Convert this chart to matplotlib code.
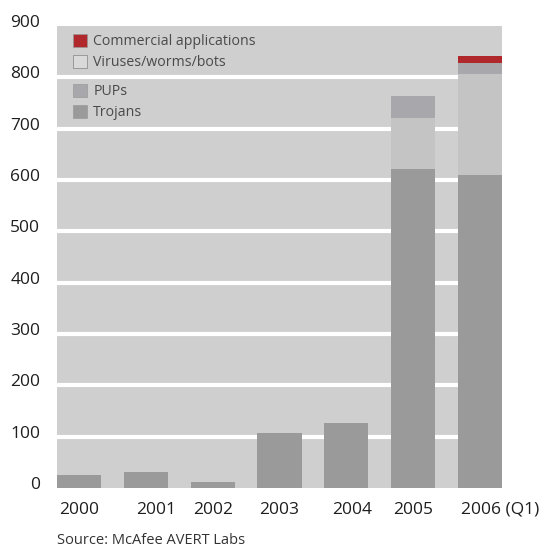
import matplotlib
matplotlib.use("Agg")
import matplotlib.pyplot as plt
import matplotlib.transforms as mtransforms
from matplotlib.patches import Patch
import numpy as np

plt.rcParams['font.family'] = ['Open Sans', 'DejaVu Sans']

# data
years = ["2000", "2001", "2002", "2003", "2004", "2005", "2006 (Q1)"]
trojans = [25, 31, 12, 108, 127, 622, 610]
viruses = [0, 0, 0, 0, 0, 99, 197]
pups = [0, 0, 0, 0, 0, 43, 21]
commercial = [0, 0, 0, 0, 0, 0, 14]
yticks = [0, 100, 200, 300, 400, 500, 600, 700, 800, 900]

bg = "#cfcfcf"
c_troj = "#9a9a9a"
c_vir = "#c4c4c4"
c_pup = "#a8a8ac"
c_com = "#b0282b"

fig = plt.figure(figsize=(5.46, 5.51), dpi=100)
ax = fig.add_axes([57 / 546, 63 / 551, 445 / 546, 462 / 551])
ax.set_facecolor(bg)

x = np.arange(len(years))
w = 0.66
b1 = np.array(trojans)
b2 = b1 + np.array(viruses)
b3 = b2 + np.array(pups)

# white gridlines (not at 0 / 900)
for v in yticks[1:-1]:
    ax.axhline(v, color="white", lw=3, zorder=1)

ax.bar(x, trojans, w, color=c_troj, zorder=2)
ax.bar(x, viruses, w, bottom=b1, color=c_vir, zorder=2)
ax.bar(x, pups, w, bottom=b2, color=c_pup, zorder=2)
ax.bar(x, commercial, w, bottom=b3, color=c_com, zorder=2)

ax.set_xlim(-w / 2, len(years) - 1 + w / 2)
ax.set_ylim(0, 900)
for s in ax.spines.values():
    s.set_visible(False)

ax.set_yticks(yticks)
ax.set_yticklabels([str(v) for v in yticks], fontsize=12.5, color="#1e1e1e")
ax.tick_params(axis="y", length=0, pad=12)
for lab in ax.get_yticklabels():
    lab.set_transform(lab.get_transform() + mtransforms.ScaledTranslation(0, 5 / 100, fig.dpi_scale_trans))

ax.set_xticks(x)
ax.set_xticklabels(years, fontsize=12.5, color="#1e1e1e")
ax.tick_params(axis="x", length=0, pad=10)
shifts = [0, 10, 0, 0, 6, 0, 20]
for lab, dx in zip(ax.get_xticklabels(), shifts):
    lab.set_transform(lab.get_transform() + mtransforms.ScaledTranslation(dx / 100, 0, fig.dpi_scale_trans))

# legend split in two, the gridline runs between
leg_kw = dict(loc="upper left", frameon=False, fontsize=10.2, handlelength=0.95, handleheight=0.95,
              handletextpad=0.45, labelspacing=0.42, borderaxespad=0, labelcolor="#4a4a4a")
leg1 = ax.legend(handles=[Patch(facecolor=c_com, edgecolor="#999999", lw=0.5, label="Commercial applications"),
                          Patch(facecolor="#d9d9d9", edgecolor="#999999", lw=0.7, label="Viruses/worms/bots")],
                 bbox_to_anchor=(0.024, 0.994), **leg_kw)
ax.add_artist(leg1)
ax.legend(handles=[Patch(facecolor=c_pup, edgecolor="#999999", lw=0.5, label="PUPs"),
                   Patch(facecolor=c_troj, edgecolor="#999999", lw=0.5, label="Trojans")],
          bbox_to_anchor=(0.024, 0.886), **leg_kw)

fig.text(57 / 546, 1 - 541 / 551, "Source: McAfee AVERT Labs", fontsize=10.5, color="#333333",
         ha="left", va="center")

fig.savefig("out.png", dpi=100)
